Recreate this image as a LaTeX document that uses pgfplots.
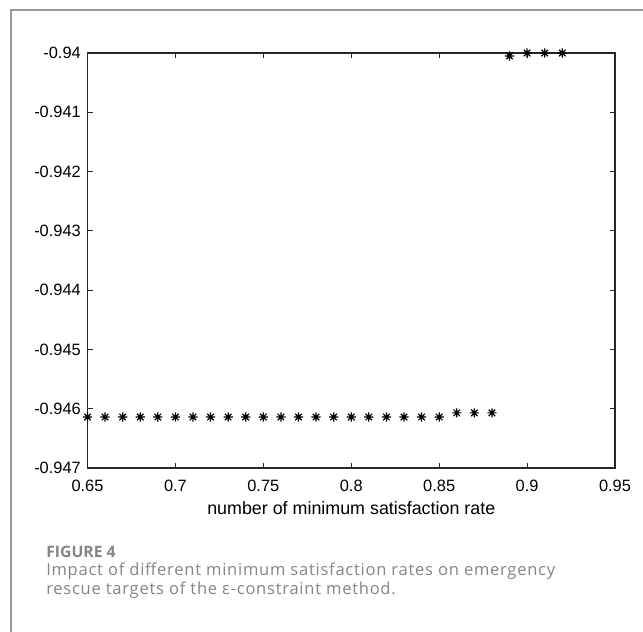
\documentclass[border=0pt]{standalone}
\usepackage{pgfplots}
\pgfplotsset{compat=1.18}
\usepackage{fontspec}
\setmainfont{Liberation Sans}
\newfontfamily\capfont[LetterSpace=4.5]{Open Sans}
\newfontfamily\capfontb{Open Sans}
\definecolor{framegray}{HTML}{9A9A9A}
\definecolor{capgray}{HTML}{858585}
\newlength\pxu
\setlength\pxu{0.75pt}
\pgfdeclareplotmark{mstar}{%
 \pgfpathmoveto{\pgfqpoint{-\pgfplotmarksize}{0pt}}\pgfpathlineto{\pgfqpoint{\pgfplotmarksize}{0pt}}%
 \pgfpathmoveto{\pgfqpoint{0pt}{-\pgfplotmarksize}}\pgfpathlineto{\pgfqpoint{0pt}{\pgfplotmarksize}}%
 \pgfpathmoveto{\pgfqpoint{-.7071\pgfplotmarksize}{-.7071\pgfplotmarksize}}\pgfpathlineto{\pgfqpoint{.7071\pgfplotmarksize}{.7071\pgfplotmarksize}}%
 \pgfpathmoveto{\pgfqpoint{-.7071\pgfplotmarksize}{.7071\pgfplotmarksize}}\pgfpathlineto{\pgfqpoint{.7071\pgfplotmarksize}{-.7071\pgfplotmarksize}}%
 \pgfusepathqstroke}
\pgfplotstableread{
x y
0.65 -0.94614
0.66 -0.94614
0.67 -0.94614
0.68 -0.94614
0.69 -0.94614
0.70 -0.94614
0.71 -0.94614
0.72 -0.94614
0.73 -0.94614
0.74 -0.94614
0.75 -0.94614
0.76 -0.94614
0.77 -0.94614
0.78 -0.94614
0.79 -0.94614
0.80 -0.94614
0.81 -0.94614
0.82 -0.94614
0.83 -0.94614
0.84 -0.94614
0.85 -0.94614
0.86 -0.94607
0.87 -0.94607
0.88 -0.94607
0.89 -0.94005
0.90 -0.94000
0.91 -0.94000
0.92 -0.94000
}\datatable
\begin{document}
\begin{tikzpicture}
\path[use as bounding box, fill=white] (0,0) rectangle (643\pxu,-632\pxu);
\draw[framegray, line width=1.7\pxu] (11\pxu,-632\pxu) -- (11\pxu,-10\pxu) -- (643\pxu,-10\pxu);
\begin{axis}[
  at={(87.5\pxu,-468\pxu)}, anchor=south west,
  width=527.5\pxu, height=415\pxu, scale only axis,
  xmin=0.65, xmax=0.95, ymin=-0.947, ymax=-0.94,
  xtick={0.65,0.7,0.75,0.8,0.85,0.9,0.95},
  xticklabels={0.65,0.7,0.75,0.8,0.85,0.9,0.95},
  ytick={-0.947,-0.946,-0.945,-0.944,-0.943,-0.942,-0.941,-0.94},
  yticklabels={-0.947,-0.946,-0.945,-0.944,-0.943,-0.942,-0.941,-0.94},
  tick align=inside,
  major tick length=5\pxu,
  axis line style={black!85, line width=1.1\pxu},
  every tick/.style={black!85, line width=1.1\pxu},
  tick label style={font=\fontsize{12.3}{14}\selectfont},
  xticklabel style={yshift=-7\pxu},
  yticklabel style={xshift=-2\pxu},
  xlabel={number of minimum satisfaction rate},
  xlabel style={font=\fontsize{13.4}{15}\selectfont, at={(axis description cs:0.5,0)}, anchor=base, yshift=-46\pxu},
  clip=false,
]
\addplot[only marks, mark=mstar, mark size=4.6\pxu, black, line width=1.2\pxu] table[x=x,y=y]{\datatable};
\end{axis}
\node[anchor=base west, text=capgray, font=\capfontb\bfseries\fontsize{11.8}{13}\selectfont, inner sep=0pt] at (46\pxu,-557\pxu) {FIGURE 4};
\node[anchor=base west, text=capgray, font=\capfont\fontsize{12.4}{18}\selectfont, inner sep=0pt] at (46\pxu,-575\pxu) {Impact of different minimum satisfaction rates on emergency};
\node[anchor=base west, text=capgray, font=\capfont\fontsize{12.4}{18}\selectfont, inner sep=0pt] at (46\pxu,-594\pxu) {rescue targets of the ε-constraint method.};
\end{tikzpicture}
\end{document}
